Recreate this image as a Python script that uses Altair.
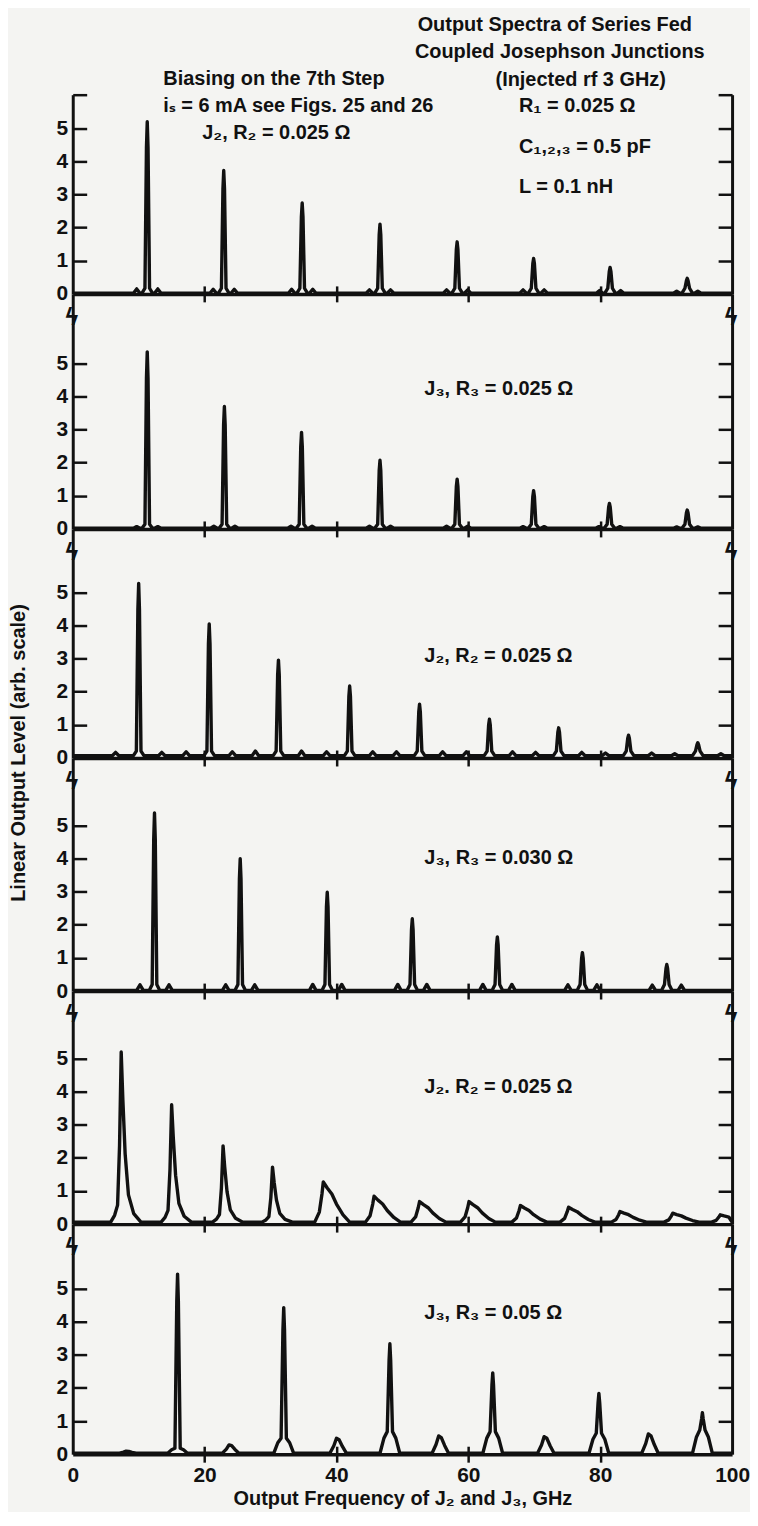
import altair as alt
import pandas as pd

FONT = "Liberation Sans Narrow, Liberation Sans, DejaVu Sans Condensed, sans-serif"
INK = "#111111"
BG = "#f4f4f2"

# ---------------- axis ticks / labels ----------------
freq_tick_values = [0, 20, 40, 60, 80, 100]
inner_freq_ticks = [20, 40, 60, 80]
level_tick_values = [0, 1, 2, 3, 4, 5]

# ---------------- texts ----------------
header_lines = ["Output Spectra of Series Fed", "Coupled Josephson Junctions", "(Injected rf 3 GHz)"]
bias_lines = ["Biasing on the 7th Step", "iₛ = 6 mA see Figs. 25 and 26"]
param_lines = ["R₁ = 0.025 Ω", "C₁,₂,₃ = 0.5 pF", "L = 0.1 nH"]
panel_labels = ["J₂, R₂ = 0.025 Ω", "J₃, R₃ = 0.025 Ω", "J₂, R₂ = 0.025 Ω",
                "J₃, R₃ = 0.030 Ω", "J₂. R₂ = 0.025 Ω", "J₃, R₃ = 0.05 Ω"]
y_title = "Linear Output Level (arb. scale)"
x_title = "Output Frequency of J₂ and J₃, GHz"

# ---------------- spectra ----------------
# panel 1: J2, R2 = 0.025
p1_freq = [11.3, 22.9, 34.8, 46.6, 58.3, 69.9, 81.5, 93.2]
p1_height = [5.17, 3.70, 2.72, 2.08, 1.55, 1.05, 0.78, 0.45]
p1_lobe = [0.13, 0.12, 0.12, 0.10, 0.10, 0.10, 0.08, 0.06]
# panel 2: J3, R3 = 0.025
p2_freq = [11.3, 23.0, 34.7, 46.6, 58.3, 69.9, 81.4, 93.2]
p2_height = [5.32, 3.67, 2.89, 2.05, 1.48, 1.13, 0.75, 0.55]
p2_lobe = [0.05, 0.06, 0.06, 0.06, 0.06, 0.05, 0.05, 0.04]
# panel 3: J2, R2 = 0.025
p3_freq = [10.0, 20.7, 31.2, 42.0, 52.6, 63.2, 73.7, 84.3, 94.8]
p3_height = [5.19, 3.97, 2.88, 2.10, 1.55, 1.10, 0.84, 0.62, 0.39]
p3_lobe = [0.10, 0.12, 0.14, 0.12, 0.12, 0.12, 0.10, 0.08, 0.06]
# panel 4: J3, R3 = 0.030
p4_freq = [12.4, 25.4, 38.6, 51.5, 64.4, 77.3, 90.1]
p4_height = [5.35, 3.97, 2.96, 2.16, 1.61, 1.14, 0.78]
p4_lobe = [0.17, 0.17, 0.18, 0.18, 0.18, 0.17, 0.16]
# panel 5: J2, R2 = 0.025 (broad lines)
p5_freq = [7.35, 15.0, 22.8, 30.3, 38.0, 45.7, 52.6, 60.1, 67.9, 75.2, 83.0, 91.0, 98.2]
p5_height = [5.13, 3.54, 2.30, 1.66, 1.21, 0.78, 0.62, 0.62, 0.50, 0.45, 0.32, 0.27, 0.22]
# panel 6: J3, R3 = 0.05
p6_freq = [15.9, 32.0, 48.1, 63.7, 79.8, 95.5]
p6_height = [5.40, 4.39, 3.30, 2.42, 1.80, 1.22]
p6_skirt = [0.15, 0.45, 0.65, 0.65, 0.6, 0.7]
p6_minor_freq = [8.3, 23.9, 40.2, 55.7, 71.7, 87.5]
p6_minor_height = [0.06, 0.25, 0.45, 0.52, 0.50, 0.58]

# line-shape profiles (offset in GHz, fraction of peak)
sharp_dx = [-1.6, -1.0, -0.55, -0.25, 0.0, 0.25, 0.6, 1.1, 1.9, 3.0]
sharp_fr = [0.0, 0.04, 0.10, 0.45, 1.0, 0.72, 0.40, 0.16, 0.05, 0.0]
broad_dx = [-1.3, -0.6, -0.2, 0.0, 0.6, 1.3, 2.0, 3.0, 4.0]
broad_fr = [0.0, 0.25, 0.7, 1.0, 0.85, 0.7, 0.45, 0.18, 0.0]


def spike(pts, f, h, knee, wb=0.8, wk=0.35, wt=0.12):
    pts += [(f - wb, 0), (f - wk, knee), (f - wt, 0.85 * h), (f, h),
            (f + wt, 0.85 * h), (f + wk, knee), (f + wb, 0)]


def lobe(pts, c, h, w=0.5):
    pts += [(c - w, 0), (c, h), (c + w, 0)]


def finish(pts, base):
    pts = sorted(pts, key=lambda p: p[0])
    pts = [(0.0, 0.0)] + pts + [(100.0, 0.0)]
    return pd.DataFrame({"f": [p[0] for p in pts], "v": [p[1] + base for p in pts]})


traces = []
pts = []
for f, h, l in zip(p1_freq, p1_height, p1_lobe):
    spike(pts, f, h, 0.15)
    lobe(pts, f - 1.6, l)
    lobe(pts, f + 1.6, l)
traces.append(finish(pts, 0.02))

pts = []
for f, h, l in zip(p2_freq, p2_height, p2_lobe):
    spike(pts, f, h, 0.12)
    lobe(pts, f - 1.6, l)
    lobe(pts, f + 1.6, l)
traces.append(finish(pts, 0.02))

pts = []
for f, h, l in zip(p3_freq, p3_height, p3_lobe):
    spike(pts, f, h, 0.14)
    lobe(pts, f - 3.5, l)
    lobe(pts, f + 3.5, l)
traces.append(finish(pts, 0.07))

pts = []
for f, h, l in zip(p4_freq, p4_height, p4_lobe):
    spike(pts, f, h, 0.18)
    lobe(pts, f - 2.2, l)
    lobe(pts, f + 2.2, l)
traces.append(finish(pts, 0.02))

pts = []
for f, h in zip(p5_freq, p5_height):
    dxs, frs = (sharp_dx, sharp_fr) if h > 1.5 else (broad_dx, broad_fr)
    for d, r in zip(dxs, frs):
        pts.append((f + d, r * h))
traces.append(finish(pts, 0.06))

pts = []
for f, h, s in zip(p6_freq, p6_height, p6_skirt):
    pts += [(f - 1.5, 0), (f - 0.9, 0.7 * s), (f - 0.4, s), (f - 0.12, 0.85 * h), (f, h),
            (f + 0.12, 0.85 * h), (f + 0.4, s), (f + 0.9, 0.7 * s), (f + 1.5, 0)]
for c, h in zip(p6_minor_freq, p6_minor_height):
    pts += [(c - 1.2, 0), (c - 0.6, 0.5 * h), (c - 0.2, h), (c + 0.2, 0.9 * h),
            (c + 0.7, 0.45 * h), (c + 1.3, 0)]
traces.append(finish(pts, 0.03))

# ---------------- layout ----------------
W = 662
UNIT = 33.3
panel_px = [200, 236, 230, 234, 234, 231]
FS_LBL = 21
FS_TXT = 20


def txt(s, x, y, align="left", angle=0, size=FS_TXT):
    kw = dict(font=FONT, fontSize=size, fontWeight="bold", color=INK,
              align=align, baseline="middle")
    if angle:
        kw["angle"] = angle
    return alt.Chart(pd.DataFrame({"t": [s]})).mark_text(**kw).encode(
        text="t:N", x=alt.value(x), y=alt.value(y))


def panel(i):
    df = traces[i]
    h = panel_px[i]
    ymax = h / UNIT
    bottom = i == len(panel_px) - 1
    inner_vals = [1, 2, 3, 4, 5, 6] if i == 0 else [1, 2, 3, 4, 5]
    xs = alt.Scale(domain=[0, 100], nice=False, zero=False)
    ys = alt.Scale(domain=[0, ymax], nice=False, zero=False)

    if bottom:
        xaxis = alt.Axis(orient="bottom", values=freq_tick_values, ticks=False, tickSize=0,
                         domain=True, domainWidth=3.5, domainColor=INK, labels=True,
                         labelFont=FONT, labelFontSize=FS_LBL, labelFontWeight="bold",
                         labelColor=INK, labelPadding=10, labelFlush=False, labelOverlap=False,
                         title=x_title, titleFont=FONT, titleFontSize=FS_TXT,
                         titleFontWeight="bold", titleColor=INK, titlePadding=4, grid=False)
    else:
        xaxis = alt.Axis(orient="bottom", ticks=False, tickSize=0, labels=False, domain=True,
                         domainWidth=3.5, domainColor=INK, title=None, grid=False)
    yaxis = alt.Axis(orient="left", values=level_tick_values, ticks=False, tickSize=0,
                     domain=True, domainWidth=3, domainColor=INK, labels=True,
                     labelFont=FONT, labelFontSize=FS_LBL, labelFontWeight="bold",
                     labelColor=INK, labelPadding=5, labelOverlap=False, title=None, grid=False)

    def ghost(xa, ya):
        return alt.Chart(df).mark_line(opacity=0).encode(
            x=alt.X("f:Q", scale=xs, axis=xa), y=alt.Y("v:Q", scale=ys, axis=ya))

    g_ticks = ghost(
        alt.Axis(orient="bottom", offset=-8, values=inner_freq_ticks, ticks=True, tickSize=16,
                 tickWidth=2.5, tickColor=INK, domain=False, labels=False, title=None, grid=False),
        alt.Axis(orient="left", offset=-14, values=inner_vals, ticks=True, tickSize=14,
                 tickWidth=2.5, tickColor=INK, domain=False, labels=False, title=None, grid=False))
    g_right = ghost(None, alt.Axis(orient="right", ticks=False, tickSize=0, labels=False,
                                   domain=True, domainWidth=3, domainColor=INK, title=None,
                                   grid=False))
    g_rticks = ghost(None, alt.Axis(orient="right", offset=-14, values=inner_vals, ticks=True,
                                    tickSize=14, tickWidth=2.5, tickColor=INK, domain=False,
                                    labels=False, title=None, grid=False))
    line = alt.Chart(df).mark_line(color=INK, strokeWidth=3.4, clip=True,
                                   strokeJoin="round").encode(
        x=alt.X("f:Q", scale=xs, axis=xaxis), y=alt.Y("v:Q", scale=ys, axis=yaxis))

    layers = [g_ticks, g_right, g_rticks, line]
    if i == 0:
        layers += [
            txt(header_lines[0], 484, -70, "center"),
            txt(header_lines[1], 489, -43, "center"),
            txt(header_lines[2], 510, -15, "center"),
            txt(bias_lines[0], 91, -16),
            txt(bias_lines[1], 91, 11),
            txt(panel_labels[0], 130, 38),
            txt(param_lines[0], 448, 11),
            txt(param_lines[1], 448, 53),
            txt(param_lines[2], 448, 93),
        ]
    else:
        lab_y = [None, 96, 128, 100, 96, 89][i]
        layers.append(txt(panel_labels[i], 353, lab_y))
        layers.append(txt("ϟ", -1, 24, "center", size=24))
        layers.append(txt("ϟ", W - 1, 24, "center", size=24))
    if i == 2:
        layers.append(txt(y_title, -54, 225, "center", angle=270))

    return alt.layer(*layers).resolve_scale(x="independent", y="independent").resolve_axis(
        x="independent", y="independent").properties(width=W, height=h)


chart = alt.vconcat(*[panel(i) for i in range(len(panel_px))], spacing=0, bounds="flush")
chart = chart.configure_view(stroke=None).configure_axis(grid=False).properties(
    background=BG, padding={"left": 0, "top": 4, "right": 0, "bottom": 0})

chart.save("out.html", embed_options={"renderer": "svg", "actions": False})
